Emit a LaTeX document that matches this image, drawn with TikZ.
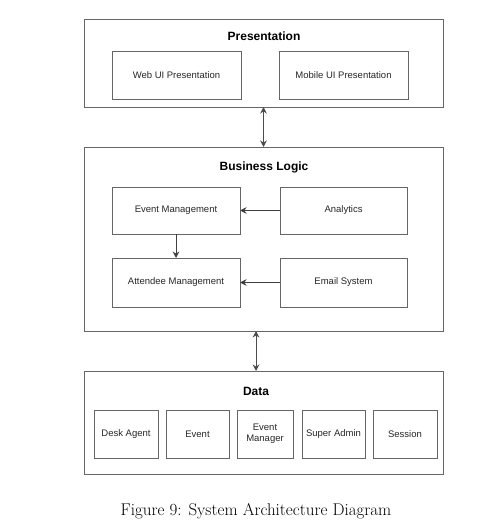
\documentclass[tikz,border=0pt]{standalone}
\usepackage{fontspec}
\setsansfont{Liberation Sans}
\usepackage{tikz}
\usetikzlibrary{arrows.meta}

\definecolor{linegray}{HTML}{666666}
\definecolor{textgray}{HTML}{262626}

\begin{document}
\begin{tikzpicture}
          [x=1pt,y=-1pt,
          font=\sffamily\fontsize{9.5}{11}\selectfont,
          layer/.style={shape=rectangle,draw=linegray,line width=0.9pt,outer sep=0pt,minimum width=359pt},
          comp/.style={shape=rectangle,draw=linegray,line width=0.9pt,outer sep=0pt,text=textgray,align=center,inner sep=1pt},
          heading/.style={font=\sffamily\bfseries\fontsize{12}{14}\selectfont,text=black},
          arc/.style={-{Stealth[length=6.5pt,width=6.5pt]},line width=0.9pt,black!75},
          biarc/.style={{Stealth[length=6.5pt,width=6.5pt]}-{Stealth[length=6.5pt,width=6.5pt]},line width=0.9pt,black!70}]

            \useasboundingbox (0,0) rectangle (499,526);

            % layers
            \node (pres) [layer,minimum height=88pt] at (263.5,63) {};
            \node (logic) [layer,minimum height=184pt] at (263.5,239) {};
            \node (data) [layer,minimum height=103pt] at (263.5,422.5) {};

            \node (prestitle) [heading] at (264,36) {Presentation};
            \node (logictitle) [heading] at (264,167) {Business Logic};
            \node (datatitle) [heading] at (256,391) {Data};

            % presentation
            \node (web) [comp,minimum width=129pt,minimum height=48pt] at (176.5,75) {Web UI Presentation};
            \node (mobile) [comp,minimum width=129pt,minimum height=48pt] at (343.5,75) {Mobile UI Presentation};

            % business logic
            \node (eventmgmt) [comp,minimum width=128pt,minimum height=47pt] at (176,210.5) {Event Management};
            \node (analytics) [comp,minimum width=127pt,minimum height=47pt] at (343.5,210.5) {Analytics};
            \node (attendee) [comp,minimum width=128pt,minimum height=49pt] at (176,282.5) {Attendee Management};
            \node (email) [comp,minimum width=127pt,minimum height=49pt] at (343.5,282.5) {Email System};

            % data
            \node (desk) [comp,minimum width=64pt,minimum height=48pt] at (126,434) {Desk Agent};
            \node (event) [comp,minimum width=63pt,minimum height=48pt] at (197.5,434) {Event};
            \node (manager) [comp,minimum width=56pt,minimum height=48pt] at (265,434) {Event\\Manager};
            \node (admin) [comp,minimum width=63pt,minimum height=48pt] at (333.5,434) {Super Admin};
            \node (session) [comp,minimum width=64pt,minimum height=48pt] at (405,434) {Session};

            \draw [biarc] (pres.south) to (logic.north);
            \draw [biarc] ([xshift=-7.5pt]logic.south) to ([xshift=-7.5pt]data.north);
            \draw [arc] (analytics) to (eventmgmt);
            \draw [arc] (email) to (attendee);
            \draw [arc] (eventmgmt) to (attendee);

            \node (caption) [font=\rmfamily\fontsize{17}{20}\selectfont] at (256,511) {Figure 9: System Architecture Diagram};

        \end{tikzpicture}
\end{document}
